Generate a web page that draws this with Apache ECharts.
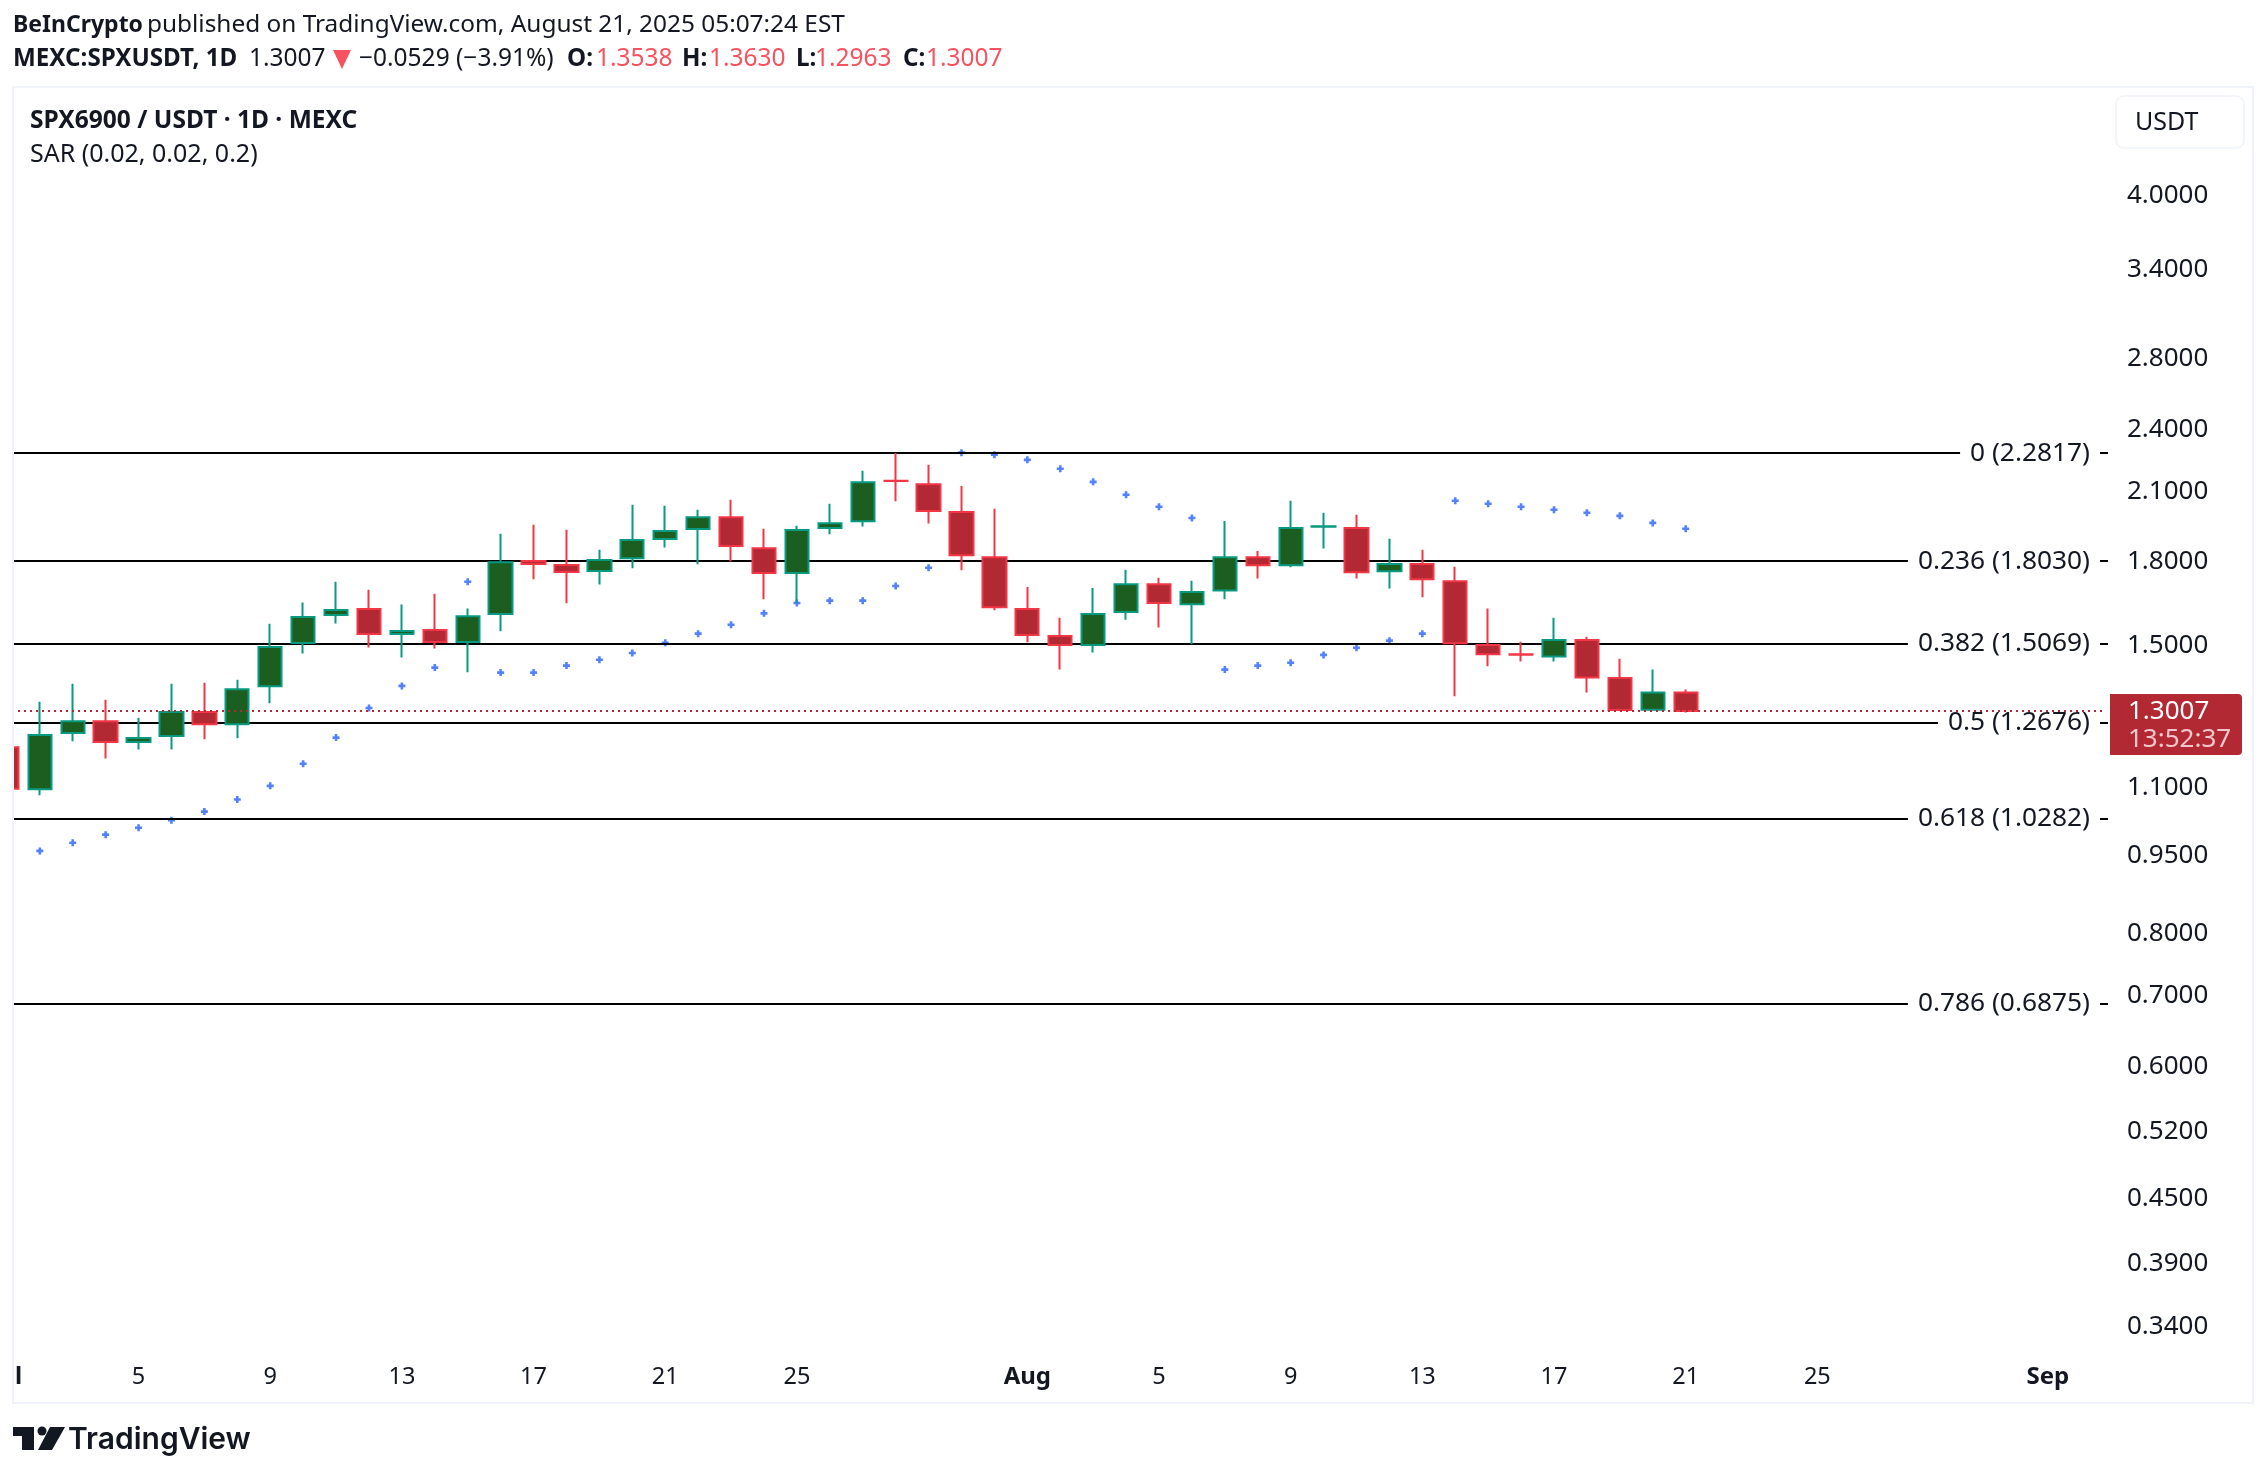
<!DOCTYPE html>
<html><head><meta charset="utf-8">
<style>html,body{margin:0;padding:0;background:#fff}#c{width:2266px;height:1476px}</style>
<script src="https://cdn.jsdelivr.net/npm/echarts@6/dist/echarts.min.js"></script>
</head><body><div id="c"></div>
<script>
// Days counted from Jul 1 (index 0)
const opens = [1.2016,1.0970,1.2399,1.2719,1.2159,1.2319,1.2977,1.2639,1.3726,1.5083,1.6031,1.6245,1.5383,1.5516,1.5115,1.6066,1.8031,1.7876,1.7646,1.8146,1.8919,1.9333,1.9838,1.8545,1.7568,1.9374,1.9664,2.1480,2.1316,2.0061,1.8184,1.6245,1.5316,1.5015,1.6134,1.7143,1.6411,1.6911,1.8184,1.7863,1.9435,1.9374,1.7633,1.7916,1.7259,1.5015,1.4715,1.4646,1.5183,1.3974,1.3040,1.3538];
const closes = [1.0978,1.2346,1.2719,1.2159,1.2265,1.2977,1.2639,1.3639,1.4950,1.5959,1.6209,1.5383,1.5483,1.5115,1.5992,1.7980,1.7916,1.7607,1.8069,1.8877,1.9250,1.9838,1.8628,1.7568,1.9291,1.9581,2.1412,2.1465,2.0105,1.8261,1.6306,1.5349,1.5015,1.6066,1.7143,1.6459,1.6852,1.8184,1.7863,1.9374,1.9450,1.7594,1.7916,1.7327,1.5072,1.4718,1.4700,1.5183,1.3994,1.3034,1.3538,1.3007];
const lows = [1.0801,1.0824,1.2176,1.1729,1.1963,1.1963,1.2230,1.2257,1.3226,1.4739,1.5738,1.4939,1.4615,1.4905,1.4152,1.5471,1.7327,1.6447,1.7131,1.7749,1.8573,1.7903,1.8018,1.6590,1.6459,1.9112,1.9443,2.0536,1.9567,1.7670,1.6197,1.5105,1.4239,1.4771,1.5871,1.5605,1.5039,1.6590,1.7362,1.7786,1.8532,1.7362,1.6983,1.6661,1.3428,1.4337,1.4491,1.4491,1.3543,1.3005,1.3020,1.2963];
const highs = [1.2221,1.3274,1.3801,1.3332,1.2814,1.3801,1.3832,1.3925,1.5727,1.6471,1.7237,1.6935,1.6399,1.6792,1.6257,1.9139,1.9512,1.9305,1.8477,2.0387,2.0343,2.0164,2.0610,1.9346,1.9471,2.0432,2.1952,2.2817,2.2241,2.1236,2.0205,1.7042,1.5935,1.7006,1.7696,1.7388,1.7275,1.9678,1.8434,2.0565,2.0031,1.9942,1.8932,1.8477,1.7812,1.6257,1.5127,1.5935,1.5294,1.4574,1.4234,1.3630];
const sar = [null,0.9589,0.9762,0.9935,1.0086,1.0252,1.0447,1.0724,1.1049,1.1596,1.2274,1.3092,1.3737,1.4296,1.7237,1.4141,1.4141,1.4358,1.4543,1.4760,1.5094,1.5394,1.5694,1.6090,1.6459,1.6542,1.6542,1.7080,1.7773,2.2835,2.2737,2.2481,2.2049,2.1428,2.0833,2.0298,1.9808,1.4234,1.4358,1.4450,1.4697,1.4928,1.5161,1.5394,2.0565,2.0432,2.0298,2.0164,2.0031,1.9898,1.9595,1.9346];
const fibLevels = ['0','0.236','0.382','0.5','0.618','0.786'];
const fibPrices = [2.2817,1.8030,1.5069,1.2676,1.0282,0.6875];
const lastPrice = 1.3007;
const priceTicks = [4,3.4,2.8,2.4,2.1,1.8,1.5,1.1,0.95,0.8,0.7,0.6,0.52,0.45,0.39,0.34];
const timeTickDays = [0,4,8,12,16,20,24,31,35,39,43,47,51,55,62];
const timeTickLabels = ['Jul','5','9','13','17','21','25','Aug','5','9','13','17','21','25','Sep'];

const FONT = '"Noto Sans"';
const INK = '#131722';
const RED = '#f7525f';
const X_MIN = -0.209, X_MAX = 63.83;
const Y_MIN = 0.32325, Y_MAX = 5.054;

const candles = opens.map((o,i)=>[i,o,closes[i],lows[i],highs[i]]);
const sarPts = sar.map((v,i)=>[i,v]).filter(p=>p[1]!=null);
const plus = 'path://M2.2,0H4.8V2.2H7V4.8H4.8V7H2.2V4.8H0V2.2H2.2Z';

function tx(x,y,text,size,extra){
  return {type:'text',x,y,z:100,silent:true,style:Object.assign({text,font:size+'px '+FONT,fill:INK,textVerticalAlign:'middle'},extra||{})};
}
const bold = '700 24.2px '+FONT;
const option = {
  animation:false,
  backgroundColor:'#fff',
  grid:{left:0,right:158,top:88,bottom:126,containLabel:false,outerBoundsMode:'none'},
  xAxis:{type:'value',min:X_MIN,max:X_MAX,splitLine:{show:false},axisLine:{show:false},axisTick:{show:false},
    axisLabel:{customValues:timeTickDays,margin:15,fontFamily:FONT,fontSize:23.5,color:INK,showMinLabel:true,showMaxLabel:true,hideOverlap:false,
      formatter:function(v){const l=timeTickLabels[timeTickDays.indexOf(v)];return /[A-Z]/.test(l)?'{b|'+l+'}':l;},
      rich:{b:{fontFamily:FONT,fontSize:24,fontWeight:700,color:INK}}}},
  yAxis:{type:'log',position:'right',min:Y_MIN,max:Y_MAX,splitLine:{show:false},axisLine:{show:false},axisTick:{show:false},minorTick:{show:false},
    axisLabel:{customValues:priceTicks,margin:19,fontFamily:FONT,fontSize:26,color:INK,align:'left',padding:[5.5,0,0,0],formatter:v=>Number(v).toFixed(4)}},
  series:[
    {name:'SAR',type:'scatter',z:1,data:sarPts,symbol:plus,symbolSize:7,itemStyle:{color:'#2962ff'},silent:true},
    {name:'Fib',type:'line',z:2,data:[],silent:true,
      markLine:{silent:true,z:2,symbol:'none',animation:false,
        lineStyle:{color:'#000',width:2,type:'solid'},
        label:{show:true,position:'insideEnd',distance:8,padding:[7,10,1,10],backgroundColor:'#fff',color:INK,fontFamily:FONT,fontSize:26.3,
          formatter:p=>p.name},
        emphasis:{disabled:true},
        data:fibPrices.map((v,i)=>[{name:fibLevels[i]+' ('+v.toFixed(4)+')',coord:[X_MIN,v]},{coord:[X_MAX,v]}])}},
    {name:'SPXUSDT',type:'candlestick',z:3,data:candles,barWidth:23.8,silent:true,
      itemStyle:{color:'#1b5e20',color0:'#b22833',borderColor:'#089981',borderColor0:'#f23645',borderWidth:2}},
    {name:'Last',type:'line',z:4,data:[],silent:true,
      markLine:{silent:true,z:4,symbol:'none',animation:false,label:{show:false},
        lineStyle:{color:'#b22833',width:2,type:[2,4]},
        data:[[{coord:[X_MIN,lastPrice]},{coord:[X_MAX-0.1,lastPrice]}]]}}
  ],
  graphic:[
    {type:'rect',z:90,silent:true,shape:{x:0,y:0,width:13,height:1476},style:{fill:'#fff'}},
    {type:'rect',z:91,silent:true,shape:{x:13,y:87,width:2240,height:1316},style:{fill:'none',stroke:'#f0f3fa',lineWidth:2}},
    tx(13,25,'BeInCrypto',23,{font:'700 23px '+FONT}),
    tx(147,25,'published on TradingView.com, August 21, 2025 05:07:24 EST',24.4),
    tx(13,59,'MEXC:SPXUSDT, 1D',24.2,{font:bold}),
    tx(249,59,'1.3007',24.5),
    {type:'polygon',z:100,silent:true,shape:{points:[[333,50],[351,50],[342,69]]},style:{fill:RED}},
    tx(359,59,'−0.0529 (−3.91%)',24.5),
    tx(567,59,'O:',24.2,{font:bold}),tx(596,59,'1.3538',24.5,{fill:RED}),
    tx(682,59,'H:',24.2,{font:bold}),tx(709,59,'1.3630',24.5,{fill:RED}),
    tx(796,59,'L:',24.2,{font:bold}),tx(815,59,'1.2963',24.5,{fill:RED}),
    tx(903,59,'C:',24.2,{font:bold}),tx(926,59,'1.3007',24.5,{fill:RED}),
    tx(30,121,'SPX6900 / USDT · 1D · MEXC',24.55,{font:'700 24.55px '+FONT}),
    tx(30,155,'SAR (0.02, 0.02, 0.2)',25),
    {type:'rect',z:95,silent:true,shape:{x:2116,y:96,width:128,height:52,r:8},style:{fill:'#fff',stroke:'#f0f3fa',lineWidth:1.5}},
    tx(2135,123,'USDT',25),
    {type:'rect',z:95,silent:true,shape:{x:2110,y:694,width:132,height:61,r:[0,4,4,0]},style:{fill:'#b22833'}},
    tx(2128,712,'1.3007',26,{fill:'#fff'}),
    tx(2128,740,'13:52:37',26,{fill:'#f0c8cc'}),
    {type:'polygon',z:100,silent:true,shape:{points:[[13,1427],[34,1427],[34,1450],[22,1450],[22,1436],[13,1436]]},style:{fill:INK}},
    {type:'circle',z:100,silent:true,shape:{cx:42,cy:1431,r:4.5},style:{fill:INK}},
    {type:'polygon',z:100,silent:true,shape:{points:[[50,1427],[65,1427],[52,1450],[38,1450]]},style:{fill:INK}},
    tx(68,1440,'TradingView',30,{font:'600 30px Inter'})
  ]
};
const chart = echarts.init(document.getElementById('c'),null,{renderer:'canvas',width:2266,height:1476});
chart.setOption(option);
</script></body></html>
